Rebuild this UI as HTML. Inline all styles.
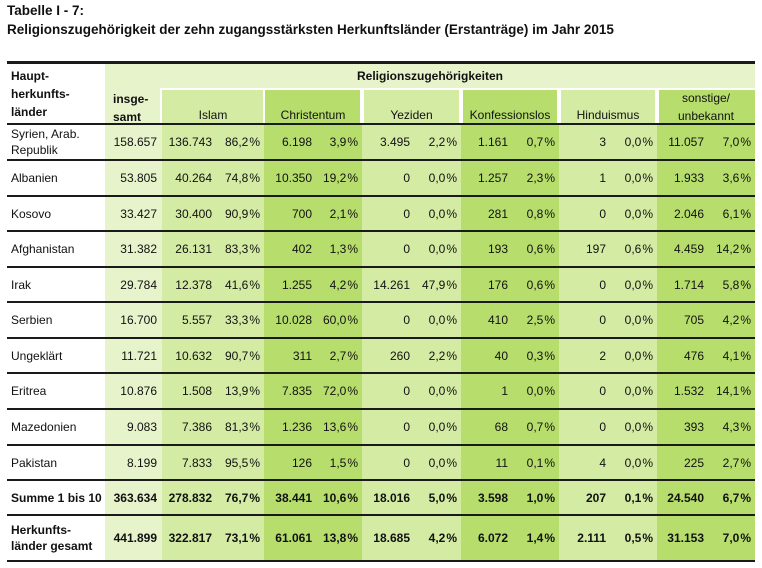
<!DOCTYPE html>
<html><head><meta charset="utf-8">
<style>
*{margin:0;padding:0;box-sizing:border-box}
body{width:762px;height:568px;background:#fff;position:relative;overflow:hidden;font-family:"Liberation Sans",sans-serif;color:#111;font-size:12px}
.a{position:absolute}
.t{position:absolute;left:7px;font-weight:bold;font-size:13.5px;color:#111}
.bg{position:absolute;top:62px;height:500px}
.hl{position:absolute;left:7px;width:748px;background:#1a1a1a}
.r{position:absolute;left:0;width:762px}
.r span{position:absolute;top:50%;transform:translateY(-50%);white-space:nowrap}
.c0{left:11px;line-height:16px}
.ins{right:605px}
.n1{right:550px}.p1{right:502px}
.n2{right:450px}.p2{right:404px}
.n3{right:352px}.p3{right:305px}
.n4{right:254px}.p4{right:207px}
.n5{right:156px}.p5{right:109px}
.n6{right:58px}.p6{right:11px}
.b{font-weight:bold}
.hd{position:absolute;text-align:center;line-height:18px}
.sub{position:absolute;top:90px;height:34px;border-left:2px solid #fff;border-right:2px solid #fff}
</style></head><body>
<div class="t" style="top:3px">Tabelle I - 7:</div>
<div class="t" style="top:22px">Religionszugehörigkeit der zehn zugangsstärksten Herkunftsländer (Erstanträge) im Jahr 2015</div>

<div class="bg" style="left:105px;width:57px;background:#e6f3cb"></div>
<div class="bg" style="left:162px;width:102px;background:#d4eba4"></div>
<div class="bg" style="left:264px;width:98px;background:#b7de6c"></div>
<div class="bg" style="left:362px;width:99px;background:#d4eba4"></div>
<div class="bg" style="left:461px;width:98px;background:#b7de6c"></div>
<div class="bg" style="left:559px;width:98px;background:#d4eba4"></div>
<div class="bg" style="left:657px;width:98px;background:#b7de6c"></div>
<div class="a" style="left:105px;top:62px;width:650px;height:28px;background:#e6f3cb"></div>
<div class="a" style="left:160px;top:88px;width:595px;height:2px;background:#fff"></div>
<div class="sub" style="left:160px;width:105px"></div>
<div class="sub" style="left:263px;width:101px"></div>
<div class="sub" style="left:360px;width:103px"></div>
<div class="sub" style="left:459px;width:102px"></div>
<div class="sub" style="left:557px;width:102px"></div>
<div class="sub" style="left:655px;width:102px;border-right:none"></div>

<div class="hl" style="top:61px;height:3px"></div>
<div class="hl" style="top:123px;height:2px"></div>
<div class="hl" style="top:159px;height:2px"></div>
<div class="hl" style="top:195px;height:2px"></div>
<div class="hl" style="top:230px;height:2px"></div>
<div class="hl" style="top:266px;height:2px"></div>
<div class="hl" style="top:301px;height:2px"></div>
<div class="hl" style="top:337px;height:2px"></div>
<div class="hl" style="top:372px;height:2px"></div>
<div class="hl" style="top:408px;height:2px"></div>
<div class="hl" style="top:444px;height:2px"></div>
<div class="hl" style="top:479px;height:2px"></div>
<div class="hl" style="top:514px;height:2px"></div>
<div class="hl" style="top:560px;height:2px"></div>

<div class="hd b" style="left:11px;top:67px;text-align:left">Haupt-<br>herkunfts-<br>länder</div>
<div class="hd b" style="left:108px;top:90px;width:50px;text-align:left;padding-left:5px">insge-<br>samt</div>
<div class="hd b" style="left:105px;top:67px;width:650px">Religionszugehörigkeiten</div>
<div class="hd" style="left:162px;top:106px;width:102px">Islam</div>
<div class="hd" style="left:264px;top:106px;width:98px">Christentum</div>
<div class="hd" style="left:362px;top:106px;width:99px">Yeziden</div>
<div class="hd" style="left:461px;top:106px;width:98px">Konfessionslos</div>
<div class="hd" style="left:559px;top:106px;width:98px">Hinduismus</div>
<div class="hd" style="left:657px;top:89px;width:98px">sonstige/<br>unbekannt</div>

<div class="r" style="top:124px;height:36px"><span class="c0">Syrien, Arab.<br>Republik</span><span class="ins">158.657</span><span class="n1">136.743</span><span class="p1">86,2&#8202;%</span><span class="n2">6.198</span><span class="p2">3,9&#8202;%</span><span class="n3">3.495</span><span class="p3">2,2&#8202;%</span><span class="n4">1.161</span><span class="p4">0,7&#8202;%</span><span class="n5">3</span><span class="p5">0,0&#8202;%</span><span class="n6">11.057</span><span class="p6">7,0&#8202;%</span></div>
<div class="r" style="top:160px;height:36px"><span class="c0">Albanien</span><span class="ins">53.805</span><span class="n1">40.264</span><span class="p1">74,8&#8202;%</span><span class="n2">10.350</span><span class="p2">19,2&#8202;%</span><span class="n3">0</span><span class="p3">0,0&#8202;%</span><span class="n4">1.257</span><span class="p4">2,3&#8202;%</span><span class="n5">1</span><span class="p5">0,0&#8202;%</span><span class="n6">1.933</span><span class="p6">3,6&#8202;%</span></div>
<div class="r" style="top:196px;height:35px"><span class="c0">Kosovo</span><span class="ins">33.427</span><span class="n1">30.400</span><span class="p1">90,9&#8202;%</span><span class="n2">700</span><span class="p2">2,1&#8202;%</span><span class="n3">0</span><span class="p3">0,0&#8202;%</span><span class="n4">281</span><span class="p4">0,8&#8202;%</span><span class="n5">0</span><span class="p5">0,0&#8202;%</span><span class="n6">2.046</span><span class="p6">6,1&#8202;%</span></div>
<div class="r" style="top:231px;height:36px"><span class="c0">Afghanistan</span><span class="ins">31.382</span><span class="n1">26.131</span><span class="p1">83,3&#8202;%</span><span class="n2">402</span><span class="p2">1,3&#8202;%</span><span class="n3">0</span><span class="p3">0,0&#8202;%</span><span class="n4">193</span><span class="p4">0,6&#8202;%</span><span class="n5">197</span><span class="p5">0,6&#8202;%</span><span class="n6">4.459</span><span class="p6">14,2&#8202;%</span></div>
<div class="r" style="top:267px;height:35px"><span class="c0">Irak</span><span class="ins">29.784</span><span class="n1">12.378</span><span class="p1">41,6&#8202;%</span><span class="n2">1.255</span><span class="p2">4,2&#8202;%</span><span class="n3">14.261</span><span class="p3">47,9&#8202;%</span><span class="n4">176</span><span class="p4">0,6&#8202;%</span><span class="n5">0</span><span class="p5">0,0&#8202;%</span><span class="n6">1.714</span><span class="p6">5,8&#8202;%</span></div>
<div class="r" style="top:302px;height:36px"><span class="c0">Serbien</span><span class="ins">16.700</span><span class="n1">5.557</span><span class="p1">33,3&#8202;%</span><span class="n2">10.028</span><span class="p2">60,0&#8202;%</span><span class="n3">0</span><span class="p3">0,0&#8202;%</span><span class="n4">410</span><span class="p4">2,5&#8202;%</span><span class="n5">0</span><span class="p5">0,0&#8202;%</span><span class="n6">705</span><span class="p6">4,2&#8202;%</span></div>
<div class="r" style="top:338px;height:35px"><span class="c0">Ungeklärt</span><span class="ins">11.721</span><span class="n1">10.632</span><span class="p1">90,7&#8202;%</span><span class="n2">311</span><span class="p2">2,7&#8202;%</span><span class="n3">260</span><span class="p3">2,2&#8202;%</span><span class="n4">40</span><span class="p4">0,3&#8202;%</span><span class="n5">2</span><span class="p5">0,0&#8202;%</span><span class="n6">476</span><span class="p6">4,1&#8202;%</span></div>
<div class="r" style="top:373px;height:36px"><span class="c0">Eritrea</span><span class="ins">10.876</span><span class="n1">1.508</span><span class="p1">13,9&#8202;%</span><span class="n2">7.835</span><span class="p2">72,0&#8202;%</span><span class="n3">0</span><span class="p3">0,0&#8202;%</span><span class="n4">1</span><span class="p4">0,0&#8202;%</span><span class="n5">0</span><span class="p5">0,0&#8202;%</span><span class="n6">1.532</span><span class="p6">14,1&#8202;%</span></div>
<div class="r" style="top:409px;height:36px"><span class="c0">Mazedonien</span><span class="ins">9.083</span><span class="n1">7.386</span><span class="p1">81,3&#8202;%</span><span class="n2">1.236</span><span class="p2">13,6&#8202;%</span><span class="n3">0</span><span class="p3">0,0&#8202;%</span><span class="n4">68</span><span class="p4">0,7&#8202;%</span><span class="n5">0</span><span class="p5">0,0&#8202;%</span><span class="n6">393</span><span class="p6">4,3&#8202;%</span></div>
<div class="r" style="top:445px;height:35px"><span class="c0">Pakistan</span><span class="ins">8.199</span><span class="n1">7.833</span><span class="p1">95,5&#8202;%</span><span class="n2">126</span><span class="p2">1,5&#8202;%</span><span class="n3">0</span><span class="p3">0,0&#8202;%</span><span class="n4">11</span><span class="p4">0,1&#8202;%</span><span class="n5">4</span><span class="p5">0,0&#8202;%</span><span class="n6">225</span><span class="p6">2,7&#8202;%</span></div>
<div class="r b" style="top:480px;height:35px"><span class="c0">Summe 1 bis 10</span><span class="ins">363.634</span><span class="n1">278.832</span><span class="p1">76,7&#8202;%</span><span class="n2">38.441</span><span class="p2">10,6&#8202;%</span><span class="n3">18.016</span><span class="p3">5,0&#8202;%</span><span class="n4">3.598</span><span class="p4">1,0&#8202;%</span><span class="n5">207</span><span class="p5">0,1&#8202;%</span><span class="n6">24.540</span><span class="p6">6,7&#8202;%</span></div>
<div class="r b" style="top:515px;height:46px"><span class="c0">Herkunfts-<br>länder gesamt</span><span class="ins">441.899</span><span class="n1">322.817</span><span class="p1">73,1&#8202;%</span><span class="n2">61.061</span><span class="p2">13,8&#8202;%</span><span class="n3">18.685</span><span class="p3">4,2&#8202;%</span><span class="n4">6.072</span><span class="p4">1,4&#8202;%</span><span class="n5">2.111</span><span class="p5">0,5&#8202;%</span><span class="n6">31.153</span><span class="p6">7,0&#8202;%</span></div>
</body></html>
